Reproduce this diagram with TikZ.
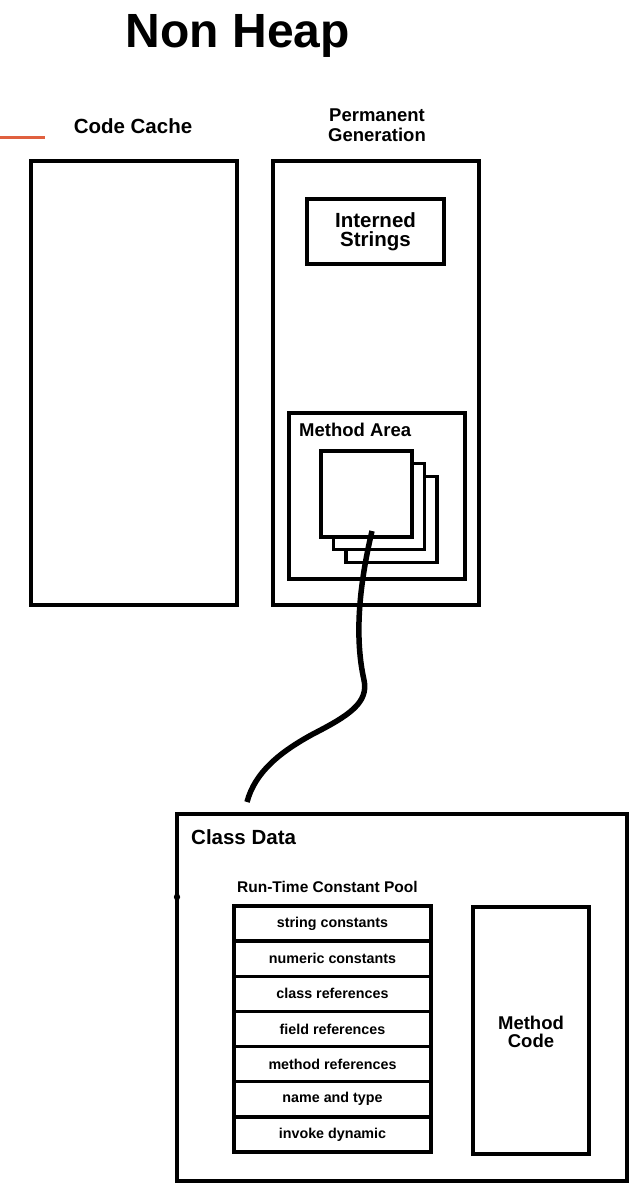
\documentclass[tikz,border=0pt]{standalone}
\usepackage{fontspec}
\setmainfont{Liberation Sans}
\begin{document}
\begin{tikzpicture}[x=1pt,y={(0,-1pt)},
  box/.style={draw=black,line width=4pt,rectangle,inner sep=0pt,fill=white},
  thin box/.style={draw=black,line width=3.5pt,rectangle,inner sep=0pt,fill=white},
  lbl/.style={inner sep=0pt,align=center,font=\bfseries},
  row/.style={draw=black,line width=3.5pt,rectangle,inner sep=0pt,minimum width=197pt,minimum height=35.14pt,font=\bfseries\fontsize{14.3}{16}\selectfont}
]
\useasboundingbox (0,0) rectangle (630,1183);
\fill[white] (0,0) rectangle (630,1183);

% title
\node[lbl,font=\bfseries\fontsize{48}{52}\selectfont,anchor=base] (title) at (238,47) {Non Heap};

% orange line
\coordinate (o1) at (0,137);
\coordinate (o2) at (45,137);
\draw[line width=3pt,color={rgb,255:red,224;green,96;blue,63}] (o1) -- (o2);

% Code cache
\node[lbl,font=\bfseries\fontsize{20.5}{22}\selectfont] (cclabel) at (133,126) {Code Cache};
\node[box,minimum width=206pt,minimum height=444pt] (cc) at (134,383) {};

% Permanent generation
\node[lbl,font=\bfseries\fontsize{18.5}{20}\selectfont] (pglabel) at (377,125) {Permanent\\Generation};
\node[box,minimum width=206pt,minimum height=444pt] (pg) at (376,383) {};
\node[box,minimum width=137pt,minimum height=65pt,font=\bfseries\fontsize{20.5}{19.5}\selectfont,align=center] (is) at (375.5,231.5) {Interned\\Strings};

% method area
\node[box,minimum width=176pt,minimum height=166pt] (ma) at (377,496) {};
\node[lbl,font=\bfseries\fontsize{18.5}{20}\selectfont,anchor=west] (malabel) at (299,430) {Method Area};
\node[thin box,minimum width=91pt,minimum height=86pt] (sq3) at (391.5,519.5) {};
\node[thin box,minimum width=91pt,minimum height=86pt] (sq2) at (379,506.5) {};
\node[thin box,minimum width=91pt,minimum height=86pt] (sq1) at (366.5,494) {};

% class data
\node[box,minimum width=450pt,minimum height=367pt] (cd) at (402,997.5) {};
\node[lbl,font=\bfseries\fontsize{20.5}{22}\selectfont,anchor=west] (cdlabel) at (191,837) {Class Data};
\fill[black] (177,897) circle (3.2pt);
\node[lbl,font=\bfseries\fontsize{15.5}{17}\selectfont,anchor=west] (rcp) at (237,887) {Run-Time Constant Pool};

\node[row] (r1) at (332.5,923.57) {string constants};
\node[row] (r2) at (332.5,958.71) {numeric constants};
\node[row] (r3) at (332.5,993.85) {class references};
\node[row] (r4) at (332.5,1028.99) {field references};
\node[row] (r5) at (332.5,1064.13) {method references};
\node[row] (r6) at (332.5,1099.27) {name and type};
\node[row] (r7) at (332.5,1134.41) {invoke dynamic};

\node[box,minimum width=116pt,minimum height=247pt] (mc) at (531,1030.5) {};
\node[lbl,font=\bfseries\fontsize{18.5}{18.5}\selectfont] (mclabel) at (531,1032) {Method\\Code};

% connector
\coordinate (cs) at (372,531);
\coordinate (ce) at (247,802);
\draw[line width=5.5pt] (cs) .. controls (358,590) and (355,640) .. (364,680)
  .. controls (369,703) and (348,716) .. (313,734)
  .. controls (280,752) and (255,772) .. (ce);
\end{tikzpicture}
\end{document}
